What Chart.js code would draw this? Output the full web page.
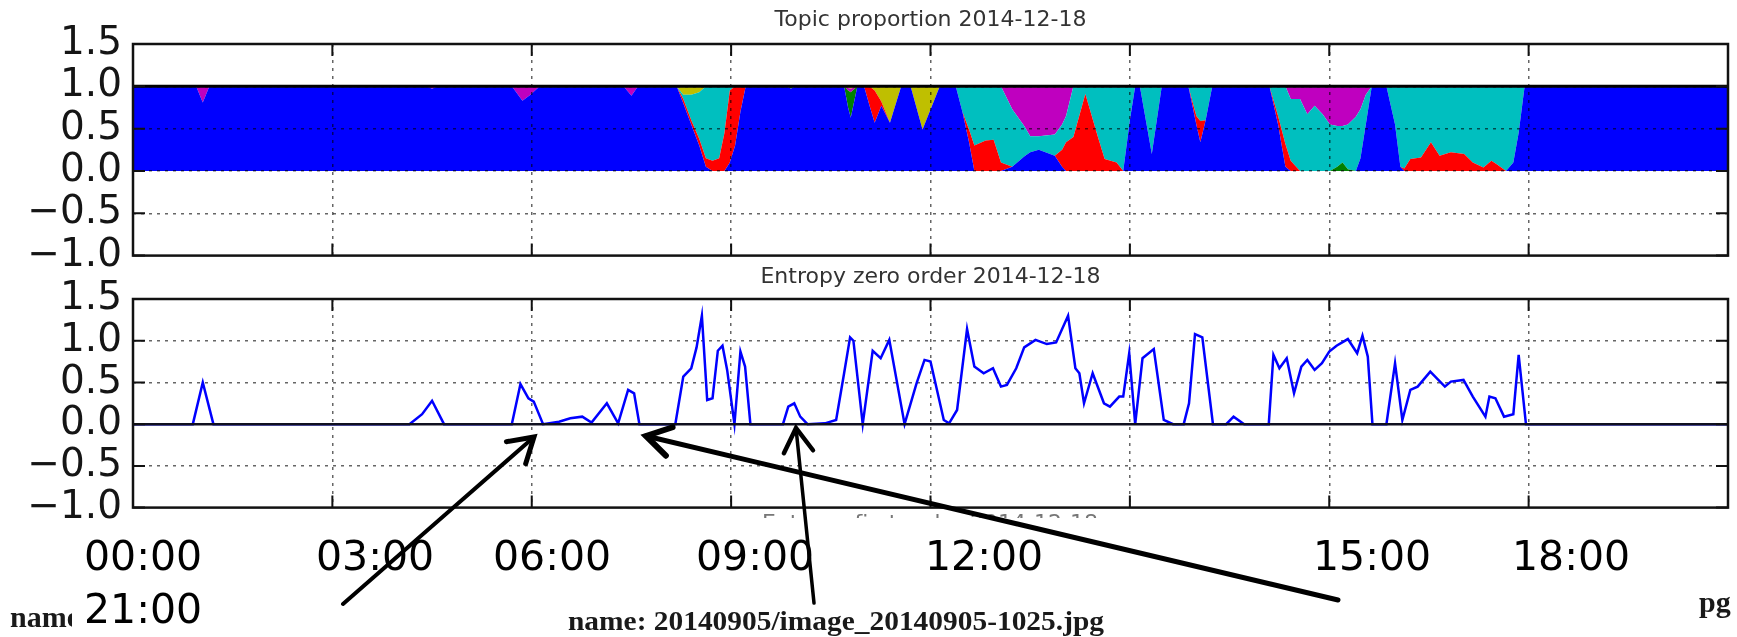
<!DOCTYPE html>
<html>
<head>
<meta charset="utf-8">
<script src="https://cdn.jsdelivr.net/npm/chart.js@4.4.0/dist/chart.umd.min.js"></script>
<style>
  html, body { margin: 0; padding: 0; background: #fff; }
  #page { position: relative; width: 1737px; height: 637px; overflow: hidden; }
  #page canvas { position: absolute; left: 0; }
  #topicCanvas { top: 0; }
  #entropyCanvas { top: 255px; }
  #overlay { position: absolute; left: 0; top: 0; pointer-events: none; }
</style>
</head>
<body>
<div id="page">
  <canvas id="topicCanvas" width="1737" height="290"></canvas>
  <canvas id="entropyCanvas" width="1737" height="287"></canvas>
  <svg id="overlay" width="1737" height="637" xmlns="http://www.w3.org/2000/svg"></svg>
</div>
<script>
// ---- data (x in hours of the day) ----

const hourGrid = [0, 3, 6, 9, 12, 15, 18, 21, 24];
const yTicks = [-1, -0.5, 0, 0.5, 1, 1.5];

// topic proportions, stacked bottom to top: blue, green, red, cyan, magenta, yellow
const topicHours = [
  0, 0.95, 1.05, 1.15,
  4.42, 4.5, 4.58,
  5.7, 5.86, 5.98, 6.12,
  7.38, 7.5, 7.6,
  8.18, 8.28, 8.4, 8.52, 8.62, 8.72, 8.82, 8.9, 8.98, 9.06, 9.14, 9.22,
  9.84, 9.9, 9.96,
  10.7, 10.76, 10.8, 10.9,
  11.0, 11.08, 11.16, 11.26, 11.39, 11.5, 11.56,
  11.7, 11.88, 12.14,
  12.38, 12.48, 12.58, 12.66, 12.83, 12.95, 13.06, 13.23, 13.41, 13.5, 13.63, 13.87, 13.98, 14.04, 14.15, 14.33, 14.5, 14.62, 14.8, 14.9, 15.0, 15.08,
  15.15, 15.33, 15.48,
  15.88, 16.0, 16.06, 16.14, 16.24,
  17.1, 17.23, 17.34, 17.42, 17.56, 17.67, 17.78, 17.9, 18.01, 18.12, 18.2, 18.28, 18.4, 18.47, 18.55, 18.64,
  18.86, 18.99, 19.07, 19.13, 19.22, 19.38, 19.53, 19.66, 19.83, 20.03, 20.16, 20.32, 20.44, 20.52, 20.66, 20.77, 20.85, 20.94,
  24
];
const topicBlue = [
  1, 1, .81, 1,
  1, .97, 1,
  1, .83, .90, 1,
  1, .89, 1,
  1, .80, .55, .30, .05, 0, 0, 0, .10, .30, .70, 1,
  1, .97, 1,
  1, .75, .63, 1,
  1, .78, .57, .77, .57, .85, 1,
  1, .49, 1,
  1, .70, .34, 0, 0, 0, 0, .05, .17, .22, .25, .18, .05, 0, 0, 0, 0, 0, 0, 0, .60, 1,
  1, .20, 1,
  1, .55, .34, .60, 1,
  1, .55, .05, 0, 0, 0, 0, 0, 0, 0, 0, 0, 0, .15, .55, 1,
  1, .55, .05, 0, 0, 0, 0, 0, 0, 0, 0, 0, 0, 0, 0, .10, .45, 1,
  1
];
const topicGreen = [
  0, 0, 0, 0,
  0, 0, 0,
  0, 0, 0, 0,
  0, 0, 0,
  0, 0, 0, 0, 0, 0, 0, 0, 0, 0, 0, 0,
  0, .03, 0,
  0, .20, .30, 0,
  0, 0, 0, 0, 0, 0, 0,
  0, 0, 0,
  0, 0, 0, 0, 0, 0, 0, 0, 0, 0, 0, 0, 0, 0, 0, 0, 0, 0, 0, 0, 0, 0,
  0, 0, 0,
  0, 0, 0, 0, 0,
  0, 0, 0, 0, 0, 0, 0, 0, 0, .05, .10, .02, 0, 0, 0, 0,
  0, 0, 0, 0, 0, 0, 0, 0, 0, 0, 0, 0, 0, 0, 0, 0, 0, 0,
  0
];
const topicRed = [
  0, 0, 0, 0,
  0, 0, 0,
  0, 0, 0, 0,
  0, 0, 0,
  0, .05, .05, .08, .10, .12, .15, .45, .85, .70, .30, 0,
  0, 0, 0,
  0, 0, 0, 0,
  0, .22, .38, .05, 0, 0, 0,
  0, 0, 0,
  0, 0, .15, .30, .36, .37, .10, 0, 0, 0, 0, 0, .20, .34, .40, .91, .45, .14, .10, 0, 0, 0,
  0, 0, 0,
  0, .10, .25, 0, 0,
  0, .10, .27, .12, 0, 0, 0, 0, 0, 0, 0, 0, 0, 0, 0, 0,
  0, 0, 0, .03, .14, .16, .34, .18, .22, .20, .10, .04, .12, .08, 0, 0, 0, 0,
  0
];
const topicCyan = [
  0, 0, 0, 0,
  0, 0, 0,
  0, 0, 0, 0,
  0, 0, 0,
  0, .05, .30, .55, .85, .88, .85, .55, .05, 0, 0, 0,
  0, 0, 0,
  0, 0, 0, 0,
  0, 0, 0, 0, 0, 0, 0,
  0, 0, 0,
  0, .30, .51, .70, .64, .63, .90, .68, .36, .19, .16, .25, .30, .31, .60, .09, .55, .86, .90, 1, .40, 0,
  0, .80, 0,
  0, .35, .41, .40, 0,
  0, .35, .68, .73, .85, .67, .77, .67, .55, .48, .43, .53, .64, .58, .35, 0,
  0, .45, .95, .97, .86, .84, .66, .82, .78, .80, .90, .96, .88, .92, 1, .90, .55, 0,
  0
];
const topicMagenta = [
  0, 0, .19, 0,
  0, .03, 0,
  0, .17, .10, 0,
  0, .11, 0,
  0, 0, 0, 0, 0, 0, 0, 0, 0, 0, 0, 0,
  0, 0, 0,
  0, .03, .04, 0,
  0, 0, 0, 0, 0, 0, 0,
  0, 0, 0,
  0, 0, 0, 0, 0, 0, 0, .27, .47, .59, .59, .57, .45, .35, 0, 0, 0, 0, 0, 0, 0, 0,
  0, 0, 0,
  0, 0, 0, 0, 0,
  0, 0, 0, .15, .15, .33, .23, .33, .45, .47, .47, .45, .36, .27, .10, 0,
  0, 0, 0, 0, 0, 0, 0, 0, 0, 0, 0, 0, 0, 0, 0, 0, 0, 0,
  0
];
const topicYellow = [
  0, 0, 0, 0,
  0, 0, 0,
  0, 0, 0, 0,
  0, 0, 0,
  0, .10, .10, .07, 0, 0, 0, 0, 0, 0, 0, 0,
  0, 0, 0,
  0, .02, .03, 0,
  0, 0, .05, .18, .43, .15, 0,
  0, .51, 0,
  0, 0, 0, 0, 0, 0, 0, 0, 0, 0, 0, 0, 0, 0, 0, 0, 0, 0, 0, 0, 0, 0,
  0, 0, 0,
  0, 0, 0, 0, 0,
  0, 0, 0, 0, 0, 0, 0, 0, 0, 0, 0, 0, 0, 0, 0, 0,
  0, 0, 0, 0, 0, 0, 0, 0, 0, 0, 0, 0, 0, 0, 0, 0, 0, 0,
  0
];

// entropy zero order
const entropyHours = [
  0, 0.9, 1.05, 1.21,
  4.16, 4.35, 4.5, 4.68,
  5.7, 5.83, 5.95, 6.03, 6.17,
  6.41, 6.58, 6.76, 6.9,
  7.13, 7.3, 7.45, 7.54, 7.62,
  8.16, 8.28, 8.4, 8.48, 8.56, 8.64, 8.72, 8.8, 8.87, 8.94, 9.05, 9.14, 9.21, 9.29,
  9.78, 9.86, 9.95, 10.04, 10.15,
  10.41, 10.58, 10.7, 10.79, 10.84, 10.98,
  11.13, 11.25, 11.38, 11.61,
  11.79, 11.91, 12.0, 12.2, 12.28,
  12.4, 12.55, 12.66, 12.8, 12.94,
  13.06, 13.15, 13.29, 13.41, 13.58, 13.75, 13.89,
  14.07, 14.18, 14.24, 14.31, 14.44, 14.61, 14.7, 14.84, 14.9, 14.99, 15.08,
  15.19, 15.36, 15.51, 15.65,
  15.81, 15.89, 15.98, 16.09, 16.25,
  16.45, 16.56, 16.72,
  17.09, 17.16, 17.25, 17.36, 17.47, 17.58, 17.67, 17.78, 17.89, 18.0, 18.11, 18.28, 18.42, 18.5, 18.58, 18.65,
  18.86, 18.99, 19.1, 19.22, 19.33, 19.52, 19.74, 19.83, 20.02, 20.16, 20.35, 20.41, 20.5, 20.63, 20.77, 20.85, 20.96,
  24
];
const entropyValues = [
  0, 0, 0.5, 0,
  0, 0.12, 0.28, 0,
  0, 0.48, 0.31, 0.27, 0,
  0.03, 0.07, 0.09, 0.02,
  0.25, 0.01, 0.41, 0.37, 0,
  0, 0.57, 0.67, 0.92, 1.3, 0.29, 0.31, 0.88, 0.94, 0.65, 0, 0.87, 0.69, 0,
  0, 0.21, 0.25, 0.09, 0,
  0.01, 0.05, 0.61, 1.04, 1.0, 0,
  0.88, 0.79, 1.01, 0,
  0.49, 0.77, 0.75, 0.05, 0.01,
  0.17, 1.14, 0.69, 0.61, 0.67,
  0.45, 0.47, 0.67, 0.92, 1.01, 0.96, 0.98,
  1.3, 0.67, 0.61, 0.25, 0.61, 0.25, 0.21, 0.33, 0.33, 0.85, 0,
  0.79, 0.9, 0.05, 0,
  0, 0.25, 1.08, 1.04, 0,
  0, 0.09, 0,
  0, 0.83, 0.67, 0.79, 0.37, 0.69, 0.77, 0.65, 0.73, 0.87, 0.94, 1.02, 0.85, 1.06, 0.81, 0,
  0, 0.73, 0.05, 0.41, 0.45, 0.63, 0.45, 0.51, 0.53, 0.33, 0.09, 0.33, 0.31, 0.09, 0.12, 0.83, 0,
  0
];

// the big time labels printed under the plots
const timeLabels = ['00:00', '03:00', '06:00', '09:00', '12:00', '15:00', '18:00', '21:00'];

// ---- layout ----
const timeLabelLeft = [84, 316, 493, 696, 925, 1313, 1512, 84];
const timeLabelLine = [0, 0, 0, 0, 0, 0, 0, 1];
const lineBaselines = [570, 623];

const arrows = [
  { from: [343, 604], to: [534, 437], width: 4 },
  { from: [814, 603], to: [796, 428], width: 3.5 },
  { from: [1338, 600], to: [646, 436], width: 5 }
];

Chart.defaults.font.family = 'DejaVu Sans';

const gridColor = 'rgba(0,0,0,0.6)';

function fmtTick(v) {
  return (v < 0 ? '\u2212' : '') + Math.abs(v).toFixed(1);
}

// box round the axes, inward ticks and the solid reference lines
const framePlugin = {
  id: 'frame',
  afterDraw(chart, args, opts) {
    const { ctx, chartArea: a } = chart;
    const xs = chart.scales.x, ys = chart.scales.y;
    ctx.save();
    (opts.lines || []).forEach(l => {
      const py = ys.getPixelForValue(l.value);
      ctx.strokeStyle = l.color;
      ctx.lineWidth = l.width;
      ctx.beginPath();
      ctx.moveTo(a.left, py);
      ctx.lineTo(a.right, py);
      ctx.stroke();
    });
    const len = opts.tickLength;
    ctx.strokeStyle = '#111';
    ctx.lineWidth = 2;
    ctx.beginPath();
    xs.ticks.forEach(t => {
      const px = xs.getPixelForValue(t.value);
      ctx.moveTo(px, a.top); ctx.lineTo(px, a.top + len);
      ctx.moveTo(px, a.bottom); ctx.lineTo(px, a.bottom - len);
    });
    ys.ticks.forEach(t => {
      const py = ys.getPixelForValue(t.value);
      ctx.moveTo(a.left, py); ctx.lineTo(a.left + len, py);
      ctx.moveTo(a.right, py); ctx.lineTo(a.right - len, py);
    });
    ctx.stroke();
    ctx.lineWidth = opts.borderWidth;
    ctx.strokeRect(a.left, a.top, a.right - a.left, a.bottom - a.top);
    ctx.restore();
  }
};

function buildScales(gridOnTop, stacked) {
  const edgeX = ctx => ctx.tick && (ctx.tick.value === 0 || ctx.tick.value === 24) ? 'transparent' : gridColor;
  const edgeY = ctx => ctx.tick && (ctx.tick.value === -1 || ctx.tick.value === 1.5) ? 'transparent' : gridColor;
  return {
    x: {
      type: 'linear',
      min: 0,
      max: 24,
      afterBuildTicks: s => { s.ticks = hourGrid.map(v => ({ value: v })); },
      afterFit: s => { s.height = 33; },
      ticks: { display: false },
      grid: { color: edgeX, lineWidth: 1.5, drawTicks: false, z: gridOnTop ? 1 : 0 },
      border: { display: false, dash: [3, 5] }
    },
    y: {
      min: -1,
      max: 1.5,
      stacked: stacked,
      afterBuildTicks: s => { s.ticks = yTicks.map(v => ({ value: v })); },
      afterFit: s => { s.width = 133; },
      ticks: {
        autoSkip: false,
        padding: 11,
        color: '#151515',
        font: { size: 39 },
        callback: v => fmtTick(v)
      },
      grid: { color: edgeY, lineWidth: 1.5, drawTicks: false, z: gridOnTop ? 1 : 0 },
      border: { display: false, dash: [3, 5] }
    }
  };
}

function titleOpts(text, padTop, padBottom) {
  return {
    display: true,
    text: text,
    fullSize: false,
    color: '#333',
    font: { size: 22, weight: 'normal' },
    padding: { top: padTop, bottom: padBottom }
  };
}

const topicSeries = [
  { name: 'topic 1', values: topicBlue, color: '#0000ff' },
  { name: 'topic 2', values: topicGreen, color: '#008000' },
  { name: 'topic 3', values: topicRed, color: '#ff0000' },
  { name: 'topic 4', values: topicCyan, color: '#00bfbf' },
  { name: 'topic 5', values: topicMagenta, color: '#bf00bf' },
  { name: 'topic 6', values: topicYellow, color: '#bfbf00' }
];

new Chart(document.getElementById('topicCanvas'), {
  type: 'line',
  data: {
    datasets: topicSeries.map((s, i) => ({
      label: s.name,
      data: topicHours.map((h, k) => ({ x: h, y: s.values[k] })),
      backgroundColor: s.color,
      borderColor: s.color,
      borderWidth: 0,
      fill: i === 0 ? 'origin' : '-1',
      pointRadius: 0,
      tension: 0
    }))
  },
  options: {
    responsive: false,
    animation: false,
    events: [],
    layout: { padding: { left: 0, right: 9, top: 0, bottom: 0 } },
    scales: buildScales(true, true),
    plugins: {
      legend: { display: false },
      tooltip: { enabled: false },
      title: titleOpts('Topic proportion 2014-12-18', 7, 10.6),
      frame: { tickLength: 12, borderWidth: 2.5, lines: [{ value: 1, width: 3, color: '#000' }] }
    }
  },
  plugins: [framePlugin]
});

new Chart(document.getElementById('entropyCanvas'), {
  type: 'line',
  data: {
    datasets: [{
      label: 'entropy',
      data: entropyHours.map((h, k) => ({ x: h, y: entropyValues[k] })),
      borderColor: '#0000ff',
      borderWidth: 2.5,
      fill: false,
      pointRadius: 0,
      tension: 0
    }]
  },
  options: {
    responsive: false,
    animation: false,
    events: [],
    layout: { padding: { left: 0, right: 9, top: 0, bottom: 0 } },
    scales: buildScales(false, false),
    plugins: {
      legend: { display: false },
      tooltip: { enabled: false },
      title: titleOpts('Entropy zero order 2014-12-18', 9, 8.6),
      frame: { tickLength: 12, borderWidth: 2.5, lines: [{ value: 0, width: 2.5, color: '#101020' }] }
    }
  },
  plugins: [framePlugin]
});

// ---- overlay: captions, big labels, arrows ----
const svg = document.getElementById('overlay');
const NS = 'http://www.w3.org/2000/svg';
function el(tag, attrs, text) {
  const e = document.createElementNS(NS, tag);
  Object.keys(attrs).forEach(k => e.setAttribute(k, attrs[k]));
  if (text !== undefined) e.textContent = text;
  svg.appendChild(e);
  return e;
}

const defs = el('defs', {});
function clip(id, x, y, w, h) {
  const cp = document.createElementNS(NS, 'clipPath');
  cp.setAttribute('id', id);
  const r = document.createElementNS(NS, 'rect');
  r.setAttribute('x', x); r.setAttribute('y', y);
  r.setAttribute('width', w); r.setAttribute('height', h);
  cp.appendChild(r);
  defs.appendChild(cp);
}
clip('nameClip', 0, 560, 72, 77);
clip('hiddenTitleClip', 600, 514, 600, 4);

// title of a further panel, mostly hidden
el('text', {
  x: 930, y: 530, 'text-anchor': 'middle', 'font-family': 'DejaVu Sans', 'font-size': 22,
  fill: '#777', 'clip-path': 'url(#hiddenTitleClip)'
}, 'Entropy first order 2014-12-18');

// image captions behind the labels
el('text', {
  x: 10, y: 627, 'font-family': 'Liberation Serif', 'font-weight': 'bold', 'font-size': 30,
  fill: '#1a1a1a', 'clip-path': 'url(#nameClip)'
}, 'name');
el('text', {
  x: 568, y: 630, 'font-family': 'Liberation Serif', 'font-weight': 'bold', 'font-size': 28,
  fill: '#1a1a1a', textLength: 536, lengthAdjust: 'spacingAndGlyphs'
}, 'name: 20140905/image_20140905-1025.jpg');
el('text', {
  x: 1699, y: 612, 'font-family': 'Liberation Serif', 'font-weight': 'bold', 'font-size': 30,
  fill: '#1a1a1a'
}, 'pg');

timeLabels.forEach((t, i) => {
  el('text', {
    x: timeLabelLeft[i], y: lineBaselines[timeLabelLine[i]],
    'font-family': 'DejaVu Sans', 'font-size': 41, fill: '#000'
  }, t);
});

arrows.forEach(a => {
  const [x0, y0] = a.from, [x1, y1] = a.to;
  const d = Math.hypot(x1 - x0, y1 - y0);
  const ux = (x0 - x1) / d, uy = (y0 - y1) / d;
  const L = 28, ang = 0.55;
  const h1 = [x1 + L * (ux * Math.cos(ang) - uy * Math.sin(ang)), y1 + L * (ux * Math.sin(ang) + uy * Math.cos(ang))];
  const h2 = [x1 + L * (ux * Math.cos(-ang) - uy * Math.sin(-ang)), y1 + L * (ux * Math.sin(-ang) + uy * Math.cos(-ang))];
  el('line', { x1: x0, y1: y0, x2: x1, y2: y1, stroke: '#000', 'stroke-width': a.width, 'stroke-linecap': 'round' });
  el('polyline', {
    points: `${h1[0]},${h1[1]} ${x1},${y1} ${h2[0]},${h2[1]}`,
    fill: 'none', stroke: '#000', 'stroke-width': a.width + 1, 'stroke-linejoin': 'miter', 'stroke-linecap': 'round'
  });
});
</script>
</body>
</html>
